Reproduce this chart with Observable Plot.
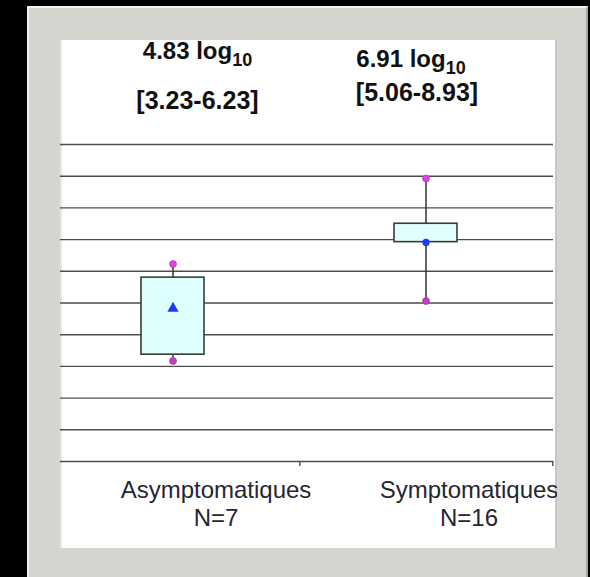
<!DOCTYPE html>
<html>
<head>
<meta charset="utf-8">
<script src="https://cdn.jsdelivr.net/npm/d3@7"></script>
<script src="https://cdn.jsdelivr.net/npm/@observablehq/plot@0.6"></script>
<style>
  html, body { margin: 0; padding: 0; background: #000; width: 590px; height: 577px; overflow: hidden; }
  #frame { position: absolute; left: 27px; top: 6px; width: 561px; height: 580px; background: #d6d4ce;
           border-top: 2px solid #f4f3f0; border-left: 2px solid #efeeea; border-right: 2px solid #a9a7a2; box-sizing: border-box; }
  #panel { position: absolute; left: 60px; top: 40px; width: 497px; height: 508px; background: #fff;
           box-shadow: inset 2px 0 0 #e6e6e6, inset -2px 0 0 #c8c8c8; }
  #chart { position: absolute; left: 60px; top: 30px; width: 497px; height: 518px; }
  #chart svg { display: block; background: transparent !important; }
</style>
</head>
<body>
<div id="frame"></div>
<div id="panel"></div>
<div id="chart"></div>
<script>
// ---- data (log10 units) ----
const groups = ["Asymptomatiques", "Symptomatiques"];
const groupN = ["N=7", "N=16"];
const minVals = [3.17, 5.06];
const q1Vals = [3.37, 6.92];
const medianVals = [4.83, 6.91];
const q3Vals = [5.80, 7.50];
const maxVals = [6.23, 8.93];
const medianLabels = ["4.83 log10", "6.91 log10"];
const rangeLabels = ["[3.23-6.23]", "[5.06-8.93]"];
const gridValues = [0, 1, 2, 3, 4, 5, 6, 7, 8, 9, 10];

const stats = groups.map((g, i) => ({
  group: g, label: g + "\n" + groupN[i],
  min: minVals[i], q1: q1Vals[i], median: medianVals[i], q3: q3Vals[i], max: maxVals[i],
  medLabel: medianLabels[i], rangeLabel: rangeLabels[i]
}));

// layout-only offsets for the annotation texts (px)
const medDx = [24.5, -15], medDy = [-86, -78];
const rngDx = [24.5, -9], rngDy = [-36, -44];

const annot = [];
stats.forEach((d, i) => {
  annot.push(Plot.text([d], {x: "group", text: "medLabel", frameAnchor: "top", lineAnchor: "bottom",
    dx: medDx[i], dy: medDy[i], fontSize: 24, fontWeight: "bold", fill: "#111", fontFamily: "Liberation Sans, Arial, sans-serif"}));
  annot.push(Plot.text([d], {x: "group", text: "rangeLabel", frameAnchor: "top", lineAnchor: "bottom",
    dx: rngDx[i], dy: rngDy[i], fontSize: 25, fontWeight: "bold", fill: "#111", fontFamily: "Liberation Sans, Arial, sans-serif"}));
});

const chart = Plot.plot({
  width: 497,
  height: 518,
  marginTop: 114,
  marginBottom: 87,
  marginLeft: -14.5,
  marginRight: 4,
  style: {background: "transparent", overflow: "hidden"},
  x: {type: "band", domain: groups, padding: 0, axis: null},
  y: {domain: [0, 10], axis: null},
  marks: [
    Plot.ruleY(gridValues, {stroke: "#4d4d4d", strokeWidth: 1.4}),
    Plot.ruleX(stats, {x: "group", y1: "min", y2: "max", stroke: "#333", strokeWidth: 1.5}),
    Plot.barY(stats, {x: "group", y1: "q1", y2: "q3", fill: "#e0ffff", stroke: "#3a3a3a", strokeWidth: 1.6, insetLeft: 95, insetRight: 95}),
    Plot.dot(stats, {x: "group", y: "max", r: 3.5, fill: "#e040e0", stroke: "#b030b0", strokeWidth: 0.6}),
    Plot.dot(stats, {x: "group", y: "min", r: 3.5, fill: "#c040c0", stroke: "#903090", strokeWidth: 0.6}),
    Plot.dot(stats.filter((d, i) => i === 0), {x: "group", y: "median", symbol: "triangle", r: 4.2, fill: "#1a3cff"}),
    Plot.dot(stats.filter((d, i) => i === 1), {x: "group", y: "median", symbol: "circle", r: 3.6, fill: "#1a3cff"}),
    // category boundary ticks below the baseline
    Plot.ruleX(stats, {x: "group", y1: 0, y2: 0, insetBottom: -5, dx: 126.8, stroke: "#4d4d4d", strokeWidth: 1.4}),
    Plot.text(stats, {x: "group", text: "label", frameAnchor: "bottom", lineAnchor: "top", lineHeight: 1.2,
      dx: 43, dy: 15.6, fontSize: 24, fill: "#262633", fontFamily: "Liberation Sans, Arial, sans-serif"}),
    ...annot
  ]
});

// subscript "10" in the log10 annotations
d3.select(chart).selectAll("text").each(function() {
  const t = this.textContent;
  if (/log10$/.test(t) && this.childElementCount === 0) {
    this.textContent = t.slice(0, -2);
    const ts = document.createElementNS("http://www.w3.org/2000/svg", "tspan");
    ts.setAttribute("dy", "7");
    ts.setAttribute("font-size", "18");
    ts.textContent = "10";
    this.appendChild(ts);
  }
});

document.getElementById("chart").appendChild(chart);
</script>
</body>
</html>
